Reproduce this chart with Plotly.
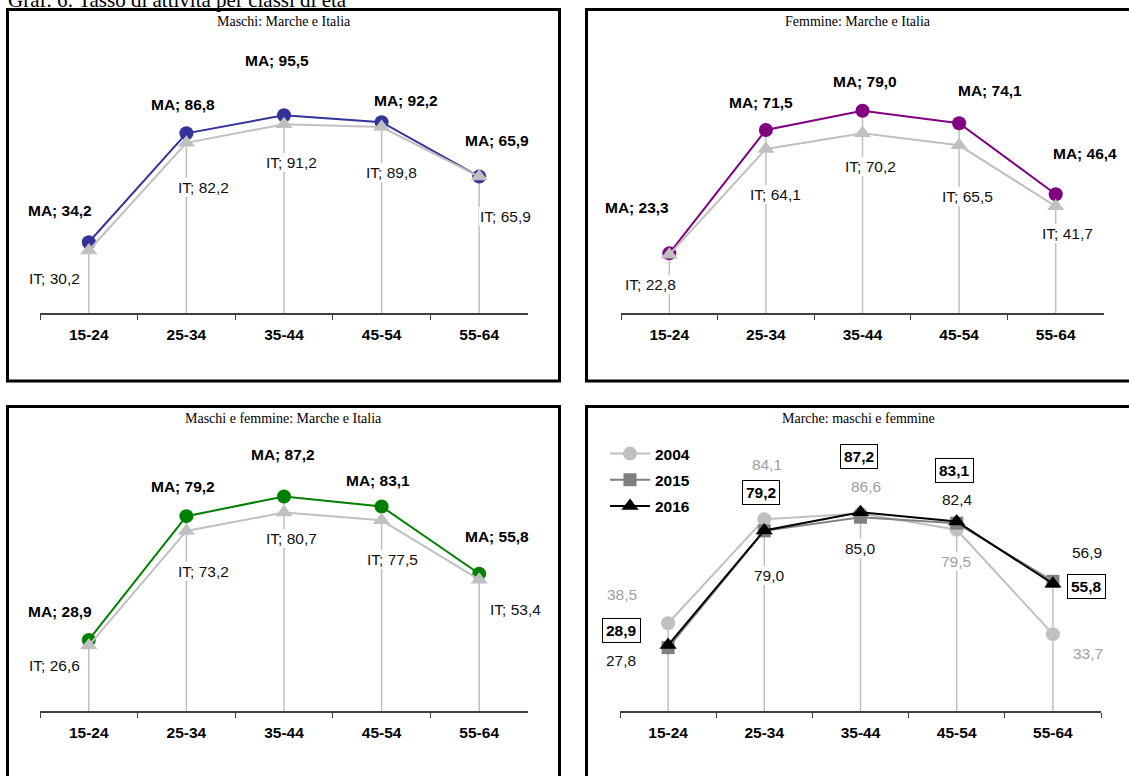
import plotly.graph_objects as go

W, H = 1129, 776

# ---------------- data ----------------
categories = ["15-24", "25-34", "35-44", "45-54", "55-64"]

maschi_ma = [34.2, 86.8, 95.5, 92.2, 65.9]
maschi_it = [30.2, 82.2, 91.2, 89.8, 65.9]
femmine_ma = [23.3, 71.5, 79.0, 74.1, 46.4]
femmine_it = [22.8, 64.1, 70.2, 65.5, 41.7]
totale_ma = [28.9, 79.2, 87.2, 83.1, 55.8]
totale_it = [26.6, 73.2, 80.7, 77.5, 53.4]
marche_2004 = [38.5, 84.1, 86.6, 79.5, 33.7]
marche_2015 = [27.8, 79.0, 85.0, 82.4, 56.9]
marche_2016 = [28.9, 79.2, 87.2, 83.1, 55.8]

main_title = "Graf. 6: Tasso di attività per classi di età"
panel_titles = ["Maschi: Marche e Italia", "Femmine: Marche e Italia",
                "Maschi e femmine: Marche e Italia", "Marche: maschi e femmine"]
years = ["2004", "2015", "2016"]

# ---------------- layout / style ----------------
SANS = "Liberation Sans, Arial, sans-serif"
SERIF = "Liberation Serif, Times New Roman, serif"
FS = 15.5
GRAY = "#c0c0c0"
PLOT_H = 260

panels = [
    dict(box=(7.5, 9.5, 559.5, 381), ax=(40, 528), axis_y=313, scale=2.07),
    dict(box=(586.5, 9.5, 1139, 381), ax=(621, 1104), axis_y=313, scale=2.56),
    dict(box=(7.5, 406.5, 559.5, 779), ax=(40, 528), axis_y=711, scale=2.46),
    dict(box=(586.5, 406.5, 1139, 779), ax=(620, 1101), axis_y=711, scale=2.28),
]

# label offsets in pixels (dx right, dy down) relative to the data point
off_ma = [
    [(-29, -32), (-3, -29), (-7, -55), (24, -22), (18, -36)],
    [(-32, -46), (-5, -27), (2, -29), (31, -33), (29, -41)],
    [(-29, -28), (-3, -30), (-1, -42), (-4, -26), (18, -37)],
]
off_it = [
    [(-34, 28), (17, 45), (7, 38), (10, 45), (26, 40)],
    [(-19, 30), (10, 46), (8, 33), (8, 51), (12, 27)],
    [(-34, 20), (17, 41), (7, 26), (11, 39), (36, 30)],
]
off_2004 = [(-46, -29), (3, -55), (5, -27), (-1, 32), (35, 19)]
off_2015 = [(-47, 13), (5, 45), (0, 31), (1, -24), (34, -29)]
off_2016 = [(-47, -15), (-3, -38), (-2, -56), (-2, -51), (34, 3)]

ma_colors = ["#333399", "#800080", "#008000"]


def fx(px):
    return px / W


def fy(py):
    return 1 - py / H


def fmt(v):
    return f"{v:.1f}".replace(".", ",")


fig = go.Figure()
annotations = []
shapes = []


def axis_names(i):
    s = "" if i == 0 else str(i + 1)
    return "x" + s, "y" + s, "xaxis" + s, "yaxis" + s


def add_droplines(i, series_list):
    xr, yr, _, _ = axis_names(i)
    xs, ys = [], []
    for k, c in enumerate(categories):
        top = max(s[k] for s in series_list)
        xs += [c, c, None]
        ys += [0, top, None]
    fig.add_trace(go.Scatter(x=xs, y=ys, xaxis=xr, yaxis=yr, mode="lines",
                             line=dict(color=GRAY, width=1.5), hoverinfo="skip",
                             showlegend=False))


def label(i, cat, val, text, dx, dy, color, bold, boxed=False):
    xr, yr, _, _ = axis_names(i)
    annotations.append(dict(
        x=cat, y=val, xref=xr, yref=yr, text=text, showarrow=False,
        xshift=dx, yshift=-dy,
        font=dict(family=SANS, size=FS, color=color,
                  weight="bold" if bold else "normal"),
        bgcolor="white", borderpad=3 if boxed else 1,
        bordercolor="black" if boxed else "rgba(0,0,0,0)",
        borderwidth=1 if boxed else 0,
    ))


pairs = [(maschi_ma, maschi_it), (femmine_ma, femmine_it), (totale_ma, totale_it)]

for i, (ma, it) in enumerate(pairs):
    xr, yr, _, _ = axis_names(i)
    add_droplines(i, [ma, it])
    fig.add_trace(go.Scatter(x=categories, y=ma, xaxis=xr, yaxis=yr, mode="lines+markers",
                             line=dict(color=ma_colors[i], width=2),
                             marker=dict(symbol="circle", size=14, color=ma_colors[i]),
                             name="MA", showlegend=False))
    fig.add_trace(go.Scatter(x=categories, y=it, xaxis=xr, yaxis=yr, mode="lines+markers",
                             line=dict(color=GRAY, width=2),
                             marker=dict(symbol="triangle-up", size=15, color=GRAY),
                             name="IT", showlegend=False))
    for k, c in enumerate(categories):
        dx, dy = off_ma[i][k]
        label(i, c, ma[k], "MA; " + fmt(ma[k]), dx, dy, "black", True)
        dx, dy = off_it[i][k]
        label(i, c, it[k], "IT; " + fmt(it[k]), dx, dy, "#111111", False)

# panel 4
add_droplines(3, [marche_2004, marche_2015, marche_2016])
styles4 = [
    dict(color=GRAY, symbol="circle", size=14),
    dict(color="#808080", symbol="square", size=13),
    dict(color="black", symbol="triangle-up", size=15),
]
for s, (name, vals) in enumerate(zip(years, [marche_2004, marche_2015, marche_2016])):
    st = styles4[s]
    fig.add_trace(go.Scatter(x=categories, y=vals, xaxis="x4", yaxis="y4",
                             mode="lines+markers", name=name, legendgroup=name,
                             line=dict(color=st["color"], width=2),
                             marker=dict(symbol=st["symbol"], size=st["size"], color=st["color"]),
                             showlegend=True))
for k, c in enumerate(categories):
    dx, dy = off_2004[k]
    label(3, c, marche_2004[k], fmt(marche_2004[k]), dx, dy, "#a0a0a0", False)
    dx, dy = off_2015[k]
    label(3, c, marche_2015[k], fmt(marche_2015[k]), dx, dy, "#111111", False)
    dx, dy = off_2016[k]
    label(3, c, marche_2016[k], fmt(marche_2016[k]), dx, dy, "black", True, boxed=True)

layout = {}
for i, p in enumerate(panels):
    xr, yr, xk, yk = axis_names(i)
    x0, x1 = p["ax"]
    ay = p["axis_y"]
    layout[xk] = dict(
        domain=[fx(x0), fx(x1)], anchor=yr, type="category",
        categoryorder="array", categoryarray=categories, range=[-0.5, 4.5],
        showline=True, linecolor="#404040", linewidth=1.5,
        ticks="outside", ticklen=5, tickwidth=1.3, tickcolor="#404040",
        tickson="boundaries", showgrid=False, zeroline=False,
        tickfont=dict(family=SANS, size=FS, color="black", weight="bold"),
        ticklabelstandoff=7, fixedrange=True,
    )
    layout[yk] = dict(
        domain=[fy(ay), fy(ay - PLOT_H)], anchor=xr,
        range=[0, PLOT_H / p["scale"]], visible=False, fixedrange=True,
    )
    bx0, by0, bx1, by1 = p["box"]
    shapes.append(dict(type="rect", xref="paper", yref="paper",
                       x0=fx(bx0), x1=fx(bx1), y0=fy(by0), y1=fy(by1),
                       line=dict(color="black", width=3), fillcolor="rgba(0,0,0,0)"))
    cx = (bx0 + bx1) / 2 if i % 2 == 0 else (bx0 + 1130) / 2
    annotations.append(dict(
        x=fx(cx), y=fy(by0 + 12), xref="paper", yref="paper",
        text=panel_titles[i], showarrow=False, xanchor="center", yanchor="middle",
        font=dict(family=SERIF, size=14, color="black"),
    ))

annotations.append(dict(
    x=fx(6), y=fy(0), xref="paper", yref="paper", text=main_title,
    showarrow=False, xanchor="left", yanchor="middle",
    font=dict(family=SERIF, size=21, color="black"),
))

fig.update_layout(
    width=W, height=H,
    margin=dict(l=0, r=0, t=0, b=0),
    paper_bgcolor="white", plot_bgcolor="rgba(0,0,0,0)",
    shapes=shapes, annotations=annotations,
    showlegend=True,
    legend=dict(x=fx(605), y=fy(437), xanchor="left", yanchor="top",
                bgcolor="rgba(0,0,0,0)", borderwidth=0,
                font=dict(family=SANS, size=FS, color="black", weight="bold"),
                tracegroupgap=3, itemwidth=40, itemclick=False, itemdoubleclick=False),
    **layout,
)

fig.write_html("out.html", config={"displayModeBar": False},
               post_script="document.body.style.margin='0px';")
